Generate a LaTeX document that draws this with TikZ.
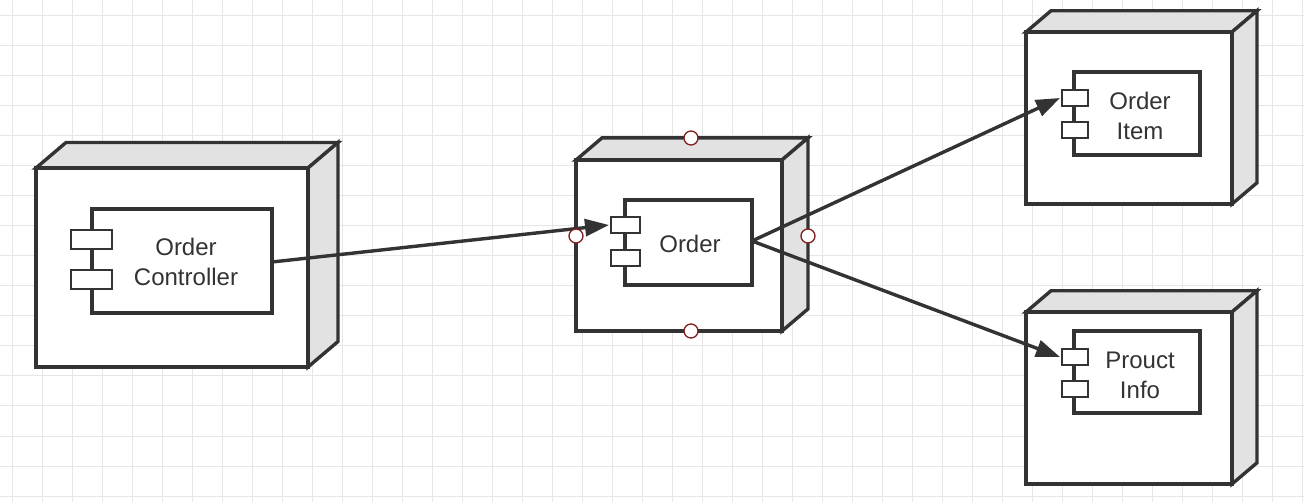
\documentclass[tikz,border=0pt]{standalone}
\usepackage{fontspec}
\setmainfont{Liberation Sans}
\usetikzlibrary{arrows.meta}
\definecolor{gridc}{RGB}{230,230,230}
\definecolor{sidec}{RGB}{226,226,226}
\definecolor{linec}{RGB}{51,51,51}
\definecolor{portc}{RGB}{130,30,30}
\tikzset{
  box/.style={draw=linec,line width=3.4pt,line join=miter},
  face/.style={box,fill=white},
  side/.style={box,fill=sidec},
  small/.style={draw=linec,line width=2.8pt,fill=white},
  lbl/.style={font=\fontsize{24}{30}\selectfont,align=center,text=linec},
  conn/.style={draw=linec,line width=3.4pt,-{Triangle[length=24pt,width=17pt]}},
  port/.style={circle,draw=portc,fill=white,line width=1.3pt,minimum size=14pt,inner sep=0pt}
}
\newcommand{\mynodebox}[5]{%
  \filldraw[side] (#1,#2) -- ++(#5,-#5*0.85) -- (#3+#5,#2-#5*0.85) -- (#3,#2) -- cycle;
  \filldraw[side] (#3,#2) -- (#3+#5,#2-#5*0.85) -- (#3+#5,#4-#5*0.85) -- (#3,#4) -- cycle;
  \filldraw[face] (#1,#2) rectangle (#3,#4);
}
\begin{document}
\begin{tikzpicture}[x=1pt,y=-1pt]
\useasboundingbox (0,0) rectangle (1304,502);
\fill[white] (0,0) rectangle (1304,502);
\foreach \x in {12,42,...,1302} \draw[gridc,line width=1pt] (\x,0) -- (\x,502);
\foreach \y in {16,46,...,500} \draw[gridc,line width=1pt] (0,\y) -- (1304,\y);

% Order Controller
\mynodebox{36}{168}{308}{367}{30}
\filldraw[small,line width=3.2pt] (92,209) rectangle (272,313);
\filldraw[small] (71,230) rectangle (112,249);
\filldraw[small] (71,270) rectangle (112,289);
\node[lbl] (oc) at (186,262) {Order\\Controller};
\coordinate (ocR) at (272,262);

% Order
\mynodebox{576}{160}{782}{331}{26}
\filldraw[small,line width=3.2pt] (625,200) rectangle (752,285);
\filldraw[small] (611,217) rectangle (640,233);
\filldraw[small] (611,250) rectangle (640,266);
\node[lbl] (o) at (690,244) {Order};
\coordinate (oR) at (752,241);
\coordinate (oL) at (609,225);

% Order Item
\mynodebox{1026}{32}{1232}{204}{25}
\filldraw[small,line width=3.2pt] (1074,72) rectangle (1200,155);
\filldraw[small] (1062,90) rectangle (1088,106);
\filldraw[small] (1062,122) rectangle (1088,138);
\node[lbl] (oi) at (1140,116) {Order\\Item};
\coordinate (oiL) at (1060,98);

% Prouct Info
\mynodebox{1026}{312}{1232}{484}{25}
\filldraw[small,line width=3.2pt] (1074,331) rectangle (1200,413);
\filldraw[small] (1062,349) rectangle (1088,365);
\filldraw[small] (1062,381) rectangle (1088,397);
\node[lbl] (pi) at (1140,375) {Prouct\\Info};
\coordinate (piL) at (1060,357);

\draw[conn] (ocR) -- (oL);
\draw[conn] (oR) -- (oiL);
\draw[conn] (oR) -- (piL);

\node[port] (p1) at (576,236) {};
\node[port] (p2) at (808,236) {};
\node[port] (p3) at (691,138) {};
\node[port] (p4) at (691,331) {};
\end{tikzpicture}
\end{document}
